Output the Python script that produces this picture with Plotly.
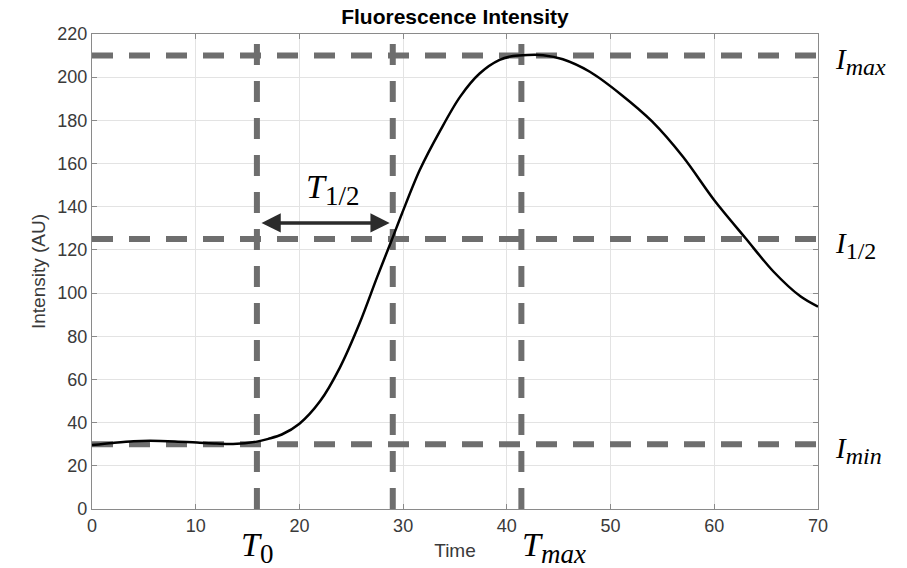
import plotly.graph_objects as go

# Curve data
time = [0, 2, 4, 5.6, 8, 10.4, 12, 13.6, 15.9, 17, 18.3, 20, 22, 23.9, 25.8, 27.5, 28.9, 29.9,
        31.6, 33.6, 35.5, 37.4, 39.3, 40.6, 42, 43.5, 45.4, 48, 51, 54, 57, 60,
        63, 65.7, 68.3, 70]
intensity = [29.6, 30.6, 31.4, 31.6, 31.3, 30.7, 30.3, 30.1, 31.2, 32.5, 34.5, 39.5, 50, 65.5,
             86, 107.5, 124.6, 137, 157, 175.5, 191, 201.8, 208, 209.8, 210.3, 210.2, 208.3,
             202.5, 192, 179.5, 163, 143, 125.5, 110, 98.5, 93.7]

# Reference levels
level_values = [210, 125, 30]
level_labels = ["max", "1/2", "min"]
time_marks = [15.9, 29.0, 41.4]

x_ticks = [0, 10, 20, 30, 40, 50, 60, 70]
y_ticks = [0, 20, 40, 60, 80, 100, 120, 140, 160, 180, 200, 220]

arrow_span = [16.2, 28.7]
arrow_level = 132.5

DASH_COLOR = "#6e6e6e"
DASH = "21px,16px"

fig = go.Figure()

for v in level_values:
    fig.add_trace(go.Scatter(x=[0, 70], y=[v, v], mode="lines",
                             line=dict(color=DASH_COLOR, width=6, dash=DASH),
                             hoverinfo="skip", showlegend=False))
for t in time_marks:
    fig.add_trace(go.Scatter(x=[t, t], y=[0, 220], mode="lines",
                             line=dict(color=DASH_COLOR, width=6, dash=DASH),
                             hoverinfo="skip", showlegend=False))

fig.add_trace(go.Scatter(x=time, y=intensity, mode="lines", line_shape="spline",
                         line=dict(color="black", width=2.5, smoothing=0.9), showlegend=False))

serif = "Liberation Serif"


def mlabel(main, sub, sub_size, sub_italic=True):
    s = f"<i>{sub}</i>" if sub_italic else sub
    return f"<i>{main}</i><sub><span style='font-size:{sub_size}px'>{s}</span></sub>"


for v, lab in zip(level_values, level_labels):
    fig.add_annotation(x=1.02, xref="paper", y=v, yref="y", xanchor="left", yanchor="middle",
                       yshift=-6,
                       text=mlabel("I", lab, 24, sub_italic=(lab != "1/2")),
                       showarrow=False, font=dict(family=serif, size=29, color="black"))

fig.add_annotation(x=time_marks[0], y=-0.08, xref="x", yref="paper", xanchor="center",
                   yanchor="middle", text=mlabel("T", "0", 27, sub_italic=False),
                   showarrow=False, font=dict(family=serif, size=34, color="black"))
fig.add_annotation(x=time_marks[2] - 0.1, y=-0.08, xref="x", yref="paper", xanchor="left",
                   yanchor="middle", text=mlabel("T", "max", 27),
                   showarrow=False, font=dict(family=serif, size=34, color="black"))
fig.add_annotation(x=23.2, y=148, xref="x", yref="y", xanchor="center", yanchor="middle",
                   text=mlabel("T", "1/2", 27, sub_italic=False), showarrow=False,
                   font=dict(family=serif, size=34, color="black"))

fig.add_annotation(x=arrow_span[1], y=arrow_level, ax=arrow_span[0], ay=arrow_level,
                   xref="x", yref="y", axref="x", ayref="y", text="", showarrow=True,
                   arrowhead=2, startarrowhead=2, arrowside="end+start", arrowwidth=3.5,
                   arrowsize=1.1, startarrowsize=1.1, arrowcolor="#2b2b2b")

axis_common = dict(showgrid=True, gridcolor="#e3e3e3", gridwidth=1, showline=True,
                   linecolor="#8a8a8a", linewidth=1.2, mirror="ticks", ticks="inside",
                   ticklen=5, tickcolor="#8a8a8a", zeroline=False,
                   tickfont=dict(family="Liberation Sans", size=18, color="#3a3a3a"))

fig.update_layout(
    width=907, height=568,
    margin=dict(l=92, r=89, t=34, b=59),
    paper_bgcolor="white", plot_bgcolor="white",
    title=dict(text="<b>Fluorescence Intensity</b>", x=0.5016, xanchor="center", y=0.97,
               yanchor="middle", font=dict(family="Liberation Sans", size=21, color="black")),
    xaxis=dict(range=[0, 70], tickvals=x_ticks, **axis_common,
               title=dict(text="Time", standoff=8,
                          font=dict(family="Liberation Sans", size=19, color="#3a3a3a"))),
    yaxis=dict(range=[0, 220], tickvals=y_ticks, **axis_common,
               title=dict(text="Intensity (AU)", standoff=6,
                          font=dict(family="Liberation Sans", size=19, color="#3a3a3a"))),
)

fig.write_html("out.html", config={"displayModeBar": False},
               post_script="document.body.style.margin='0px';")
